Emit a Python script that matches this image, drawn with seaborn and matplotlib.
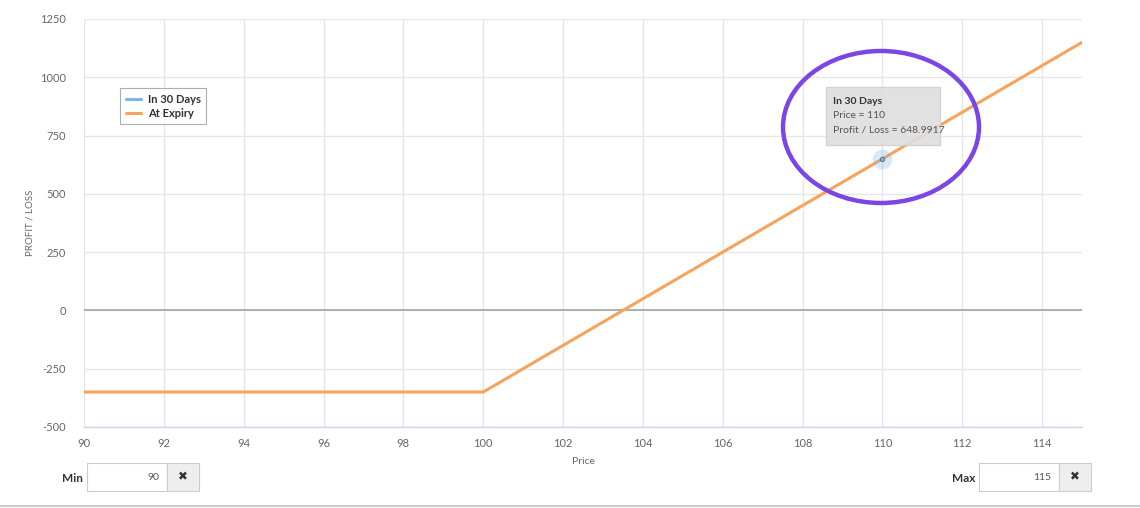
import matplotlib
matplotlib.use("Agg")
import matplotlib.pyplot as plt
import matplotlib.patches as mpatches
from matplotlib.lines import Line2D
import pandas as pd
import seaborn as sns

# ── data ──────────────────────────────────────────────
expiry_price = [90, 100, 115]
expiry_pl = [-350, -350, 1150]
in30_price = [110]
in30_pl = [648.9917]

x_ticks = [90, 92, 94, 96, 98, 100, 102, 104, 106, 108, 110, 112, 114]
y_ticks = [-500, -250, 0, 250, 500, 750, 1000, 1250]

W, H = 1140, 508
BLUE = '#7cb5ec'
ORANGE = '#f7a35c'
GRID = '#e6e6e6'
AXIS = '#ccd6eb'
TXT = '#666666'

sns.set_style("white")
plt.rcParams['font.family'] = ['Lato', 'DejaVu Sans']
plt.rcParams['axes.unicode_minus'] = False


def fx(px):
    return px / W


def fy(py):
    return 1 - py / H


fig = plt.figure(figsize=(W / 100, H / 100), dpi=100)
ax = fig.add_axes([fx(84), fy(427), fx(1082) - fx(84), fy(19) - fy(427)])

df = pd.DataFrame({'Price': expiry_price, 'PL': expiry_pl})
sns.lineplot(data=df, x='Price', y='PL', ax=ax, color=ORANGE, linewidth=2.2, zorder=4)

ax.set_xlim(90, 115)
ax.set_ylim(-500, 1250)
ax.set_xticks(x_ticks)
ax.set_yticks(y_ticks)
ax.grid(True, color=GRID, linewidth=1)
ax.set_axisbelow(True)
ax.axhline(0, color='#aaaaaa', linewidth=1.3, zorder=2)
for s in ['top', 'right', 'left']:
    ax.spines[s].set_visible(False)
ax.spines['bottom'].set_color(AXIS)
ax.spines['bottom'].set_linewidth(1)
ax.tick_params(axis='x', colors=TXT, labelsize=8, length=7, color=AXIS, pad=1)
ax.tick_params(axis='y', colors=TXT, labelsize=8, length=0, pad=13)
ax.set_xlabel('Price', color=TXT, fontsize=7.5, labelpad=6)
ax.set_ylabel('PROFIT / LOSS', color=TXT, fontsize=7, labelpad=4)

# hovered point of the "In 30 Days" series
ax.scatter(in30_price, in30_pl, s=200, color=BLUE, alpha=0.3, zorder=5, linewidths=0)
ax.scatter(in30_price, in30_pl, s=10, facecolor=BLUE, edgecolor='#666666', linewidths=0.6, zorder=6)

# legend
handles = [Line2D([], [], color=BLUE, linewidth=2.2), Line2D([], [], color=ORANGE, linewidth=2.2)]
leg = ax.legend(handles, ['In 30 Days', 'At Expiry'], loc='upper left',
                bbox_to_anchor=(fx(120 - 84) / (fx(1082) - fx(84)), (fy(88) - fy(427)) / (fy(19) - fy(427))),
                fontsize=8, frameon=True, fancybox=False, handlelength=1.4, handletextpad=0.6,
                borderpad=0.5, labelspacing=0.3, borderaxespad=0)
leg.get_frame().set_edgecolor('#999999')
leg.get_frame().set_linewidth(0.8)
for t in leg.get_texts():
    t.set_color('#333333')
    t.set_fontweight('bold')

# tooltip
tip = mpatches.FancyBboxPatch((fx(826), fy(145)), fx(940) - fx(826), fy(87) - fy(145),
                              boxstyle='square,pad=0', transform=fig.transFigure,
                              facecolor='#dedede', edgecolor='#d0d0d0', alpha=0.9, zorder=7)
fig.patches.append(tip)
fig.text(fx(833), fy(102), 'In 30 Days', fontsize=7.5, fontweight='bold', color='#333333', va='center', zorder=8)
fig.text(fx(833), fy(116), 'Price = 110', fontsize=7.5, color='#555555', va='center', zorder=8)
fig.text(fx(833), fy(130), 'Profit / Loss = 648.9917', fontsize=7.5, color='#555555', va='center', zorder=8)

# purple ellipse
ell = mpatches.Ellipse((fx(881), fy(127)), fx(196), 152 / H, transform=fig.transFigure,
                       fill=False, edgecolor='#7b46e5', linewidth=3.2, zorder=9)
fig.patches.append(ell)

# min / max controls
def control(label, value, lx, bx):
    fig.text(fx(lx), fy(478), label, fontsize=8.5, fontweight='bold', color='#333333', ha='right', va='center')
    box = mpatches.FancyBboxPatch((fx(bx), fy(491)), fx(80), 28 / H, boxstyle='square,pad=0',
                                  transform=fig.transFigure, facecolor='white', edgecolor='#cccccc', linewidth=0.8)
    btn = mpatches.FancyBboxPatch((fx(bx + 80), fy(491)), fx(32), 28 / H, boxstyle='square,pad=0',
                                  transform=fig.transFigure, facecolor='#eeeeee', edgecolor='#cccccc', linewidth=0.8)
    fig.patches.extend([box, btn])
    fig.text(fx(bx + 72), fy(478), value, fontsize=7.5, color='#555555', ha='right', va='center')
    fig.text(fx(bx + 96), fy(477), '✖', fontsize=8.5, color='#333333', ha='center', va='center',
             family=['DejaVu Sans'])


control('Min', '90', 83, 87)
control('Max', '115', 975, 979)

fig.add_artist(Line2D([0, 1], [fy(506), fy(506)], transform=fig.transFigure, color='#cccccc', linewidth=1.5))

fig.savefig('out.png', dpi=100)
